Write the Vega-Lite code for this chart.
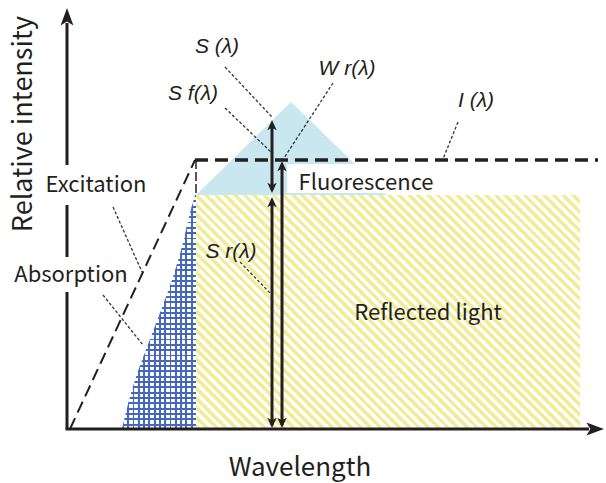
{
  "$schema": "https://vega.github.io/schema/vega-lite/v6.json",
  "width": 606,
  "height": 483,
  "autosize": {"type": "none"},
  "padding": 0,
  "background": "white",
  "config": {"view": {"stroke": null}},
  "datasets": {
    "fluorescence": [
      {"x": 129, "y": 234, "y2": 234},
      {"x": 224, "y": 327, "y2": 234},
      {"x": 320, "y": 234, "y2": 234}
    ],
    "reflected": [{"x": 129, "x2": 513, "y": 0, "y2": 234}],
    "absorption": [
      {"y": 0, "x": 55, "x2": 129},
      {"y": 49, "x": 68, "x2": 129},
      {"y": 82, "x": 80, "x2": 129},
      {"y": 116, "x": 93, "x2": 129},
      {"y": 149, "x": 105, "x2": 129},
      {"y": 182, "x": 115, "x2": 129},
      {"y": 216, "x": 123, "x2": 129},
      {"y": 234, "x": 128, "x2": 129}
    ],
    "axes": [
      {"x": -1.5, "x2": 522, "y": 0, "y2": 0},
      {"x": 0, "x2": 0, "y": 0, "y2": 406}
    ],
    "axis_heads": [
      {"x": 0, "y": 421, "dir": "up"},
      {"x": 537, "y": 0, "dir": "right"}
    ],
    "label_boxes": [
      {"x": 220, "x2": 373, "y": 236, "y2": 265},
      {"x": -27, "x2": 85, "y": 224, "y2": 264},
      {"x": -62, "x2": 66, "y": 137, "y2": 172}
    ],
    "irradiance_rise": [{"x": 3, "y": 0}, {"x": 128, "y": 269}],
    "irradiance_flat": [{"x": 128, "y": 269}, {"x": 531, "y": 269}],
    "edge": [{"x": 129, "x2": 129, "y": 236, "y2": 268}],
    "shafts": [
      {"x": 205, "x2": 205, "y": 239, "y2": 305},
      {"x": 205, "x2": 205, "y": 4, "y2": 228},
      {"x": 215, "x2": 215, "y": 4, "y2": 264}
    ],
    "heads": [
      {"x": 205, "y": 309, "dir": "up"},
      {"x": 205, "y": 236, "dir": "down"},
      {"x": 205, "y": 232, "dir": "up"},
      {"x": 205, "y": 1, "dir": "down"},
      {"x": 215, "y": 268, "dir": "up"},
      {"x": 215, "y": 1, "dir": "down"}
    ],
    "leaders": [
      {"x": 158, "y": 362, "x2": 205, "y2": 312},
      {"x": 158, "y": 321, "x2": 204, "y2": 277},
      {"x": 266, "y": 346, "x2": 217, "y2": 271},
      {"x": 391, "y": 307, "x2": 376, "y2": 270},
      {"x": 46, "y": 222, "x2": 75, "y2": 157},
      {"x": 36, "y": 134, "x2": 76, "y2": 84},
      {"x": 173, "y": 167, "x2": 203, "y2": 136}
    ],
    "symbols": [
      {"x": 150, "y": 376, "label": "S (λ)"},
      {"x": 126, "y": 329, "label": "S f(λ)"},
      {"x": 280, "y": 354, "label": "W r(λ)"},
      {"x": 409, "y": 322, "label": "I (λ)"},
      {"x": 164, "y": 171, "label": "S r(λ)"}
    ],
    "words": [
      {"x": 29, "y": 237, "label": "Excitation"},
      {"x": 4, "y": 147, "label": "Absorption"},
      {"x": 299, "y": 239, "label": "Fluorescence"},
      {"x": 361, "y": 109, "label": "Reflected light"}
    ],
    "x_title": [{"x": 233, "y": -47, "label": "Wavelength"}],
    "y_title": [{"x": -35, "y": 305, "label": "Relative intensity"}]
  },
  "encoding": {
    "x": {"field": "x", "type": "quantitative", "scale": {"domain": [-67, 539], "nice": false, "zero": false}, "axis": null},
    "y": {"field": "y", "type": "quantitative", "scale": {"domain": [-54, 429], "nice": false, "zero": false}, "axis": null}
  },
  "layer": [
    {
      "data": {"name": "fluorescence"},
      "mark": {"type": "area", "orient": "vertical", "color": "#c8e7ef", "opacity": 1},
      "encoding": {"y2": {"field": "y2"}}
    },
    {
      "data": {"name": "reflected"},
      "mark": {
        "type": "rect",
        "stroke": null,
        "fill": {
          "gradient": "linear", "x1": 0, "y1": 1, "x2": 1.1736, "y2": 0.2849,
          "stops": [
            {"offset": 0, "color": "#f3ec94"},
            {"offset": 0.0078125, "color": "#f3ec94"}, {"offset": 0.0078125, "color": "#ffffff"},
            {"offset": 0.015625, "color": "#ffffff"}, {"offset": 0.015625, "color": "#f3ec94"},
            {"offset": 0.0234375, "color": "#f3ec94"}, {"offset": 0.0234375, "color": "#ffffff"},
            {"offset": 0.03125, "color": "#ffffff"}, {"offset": 0.03125, "color": "#f3ec94"},
            {"offset": 0.0390625, "color": "#f3ec94"}, {"offset": 0.0390625, "color": "#ffffff"},
            {"offset": 0.046875, "color": "#ffffff"}, {"offset": 0.046875, "color": "#f3ec94"},
            {"offset": 0.0546875, "color": "#f3ec94"}, {"offset": 0.0546875, "color": "#ffffff"},
            {"offset": 0.0625, "color": "#ffffff"}, {"offset": 0.0625, "color": "#f3ec94"},
            {"offset": 0.0703125, "color": "#f3ec94"}, {"offset": 0.0703125, "color": "#ffffff"},
            {"offset": 0.078125, "color": "#ffffff"}, {"offset": 0.078125, "color": "#f3ec94"},
            {"offset": 0.0859375, "color": "#f3ec94"}, {"offset": 0.0859375, "color": "#ffffff"},
            {"offset": 0.09375, "color": "#ffffff"}, {"offset": 0.09375, "color": "#f3ec94"},
            {"offset": 0.1015625, "color": "#f3ec94"}, {"offset": 0.1015625, "color": "#ffffff"},
            {"offset": 0.109375, "color": "#ffffff"}, {"offset": 0.109375, "color": "#f3ec94"},
            {"offset": 0.1171875, "color": "#f3ec94"}, {"offset": 0.1171875, "color": "#ffffff"},
            {"offset": 0.125, "color": "#ffffff"}, {"offset": 0.125, "color": "#f3ec94"},
            {"offset": 0.1328125, "color": "#f3ec94"}, {"offset": 0.1328125, "color": "#ffffff"},
            {"offset": 0.140625, "color": "#ffffff"}, {"offset": 0.140625, "color": "#f3ec94"},
            {"offset": 0.1484375, "color": "#f3ec94"}, {"offset": 0.1484375, "color": "#ffffff"},
            {"offset": 0.15625, "color": "#ffffff"}, {"offset": 0.15625, "color": "#f3ec94"},
            {"offset": 0.1640625, "color": "#f3ec94"}, {"offset": 0.1640625, "color": "#ffffff"},
            {"offset": 0.171875, "color": "#ffffff"}, {"offset": 0.171875, "color": "#f3ec94"},
            {"offset": 0.1796875, "color": "#f3ec94"}, {"offset": 0.1796875, "color": "#ffffff"},
            {"offset": 0.1875, "color": "#ffffff"}, {"offset": 0.1875, "color": "#f3ec94"},
            {"offset": 0.1953125, "color": "#f3ec94"}, {"offset": 0.1953125, "color": "#ffffff"},
            {"offset": 0.203125, "color": "#ffffff"}, {"offset": 0.203125, "color": "#f3ec94"},
            {"offset": 0.2109375, "color": "#f3ec94"}, {"offset": 0.2109375, "color": "#ffffff"},
            {"offset": 0.21875, "color": "#ffffff"}, {"offset": 0.21875, "color": "#f3ec94"},
            {"offset": 0.2265625, "color": "#f3ec94"}, {"offset": 0.2265625, "color": "#ffffff"},
            {"offset": 0.234375, "color": "#ffffff"}, {"offset": 0.234375, "color": "#f3ec94"},
            {"offset": 0.2421875, "color": "#f3ec94"}, {"offset": 0.2421875, "color": "#ffffff"},
            {"offset": 0.25, "color": "#ffffff"}, {"offset": 0.25, "color": "#f3ec94"},
            {"offset": 0.2578125, "color": "#f3ec94"}, {"offset": 0.2578125, "color": "#ffffff"},
            {"offset": 0.265625, "color": "#ffffff"}, {"offset": 0.265625, "color": "#f3ec94"},
            {"offset": 0.2734375, "color": "#f3ec94"}, {"offset": 0.2734375, "color": "#ffffff"},
            {"offset": 0.28125, "color": "#ffffff"}, {"offset": 0.28125, "color": "#f3ec94"},
            {"offset": 0.2890625, "color": "#f3ec94"}, {"offset": 0.2890625, "color": "#ffffff"},
            {"offset": 0.296875, "color": "#ffffff"}, {"offset": 0.296875, "color": "#f3ec94"},
            {"offset": 0.3046875, "color": "#f3ec94"}, {"offset": 0.3046875, "color": "#ffffff"},
            {"offset": 0.3125, "color": "#ffffff"}, {"offset": 0.3125, "color": "#f3ec94"},
            {"offset": 0.3203125, "color": "#f3ec94"}, {"offset": 0.3203125, "color": "#ffffff"},
            {"offset": 0.328125, "color": "#ffffff"}, {"offset": 0.328125, "color": "#f3ec94"},
            {"offset": 0.3359375, "color": "#f3ec94"}, {"offset": 0.3359375, "color": "#ffffff"},
            {"offset": 0.34375, "color": "#ffffff"}, {"offset": 0.34375, "color": "#f3ec94"},
            {"offset": 0.3515625, "color": "#f3ec94"}, {"offset": 0.3515625, "color": "#ffffff"},
            {"offset": 0.359375, "color": "#ffffff"}, {"offset": 0.359375, "color": "#f3ec94"},
            {"offset": 0.3671875, "color": "#f3ec94"}, {"offset": 0.3671875, "color": "#ffffff"},
            {"offset": 0.375, "color": "#ffffff"}, {"offset": 0.375, "color": "#f3ec94"},
            {"offset": 0.3828125, "color": "#f3ec94"}, {"offset": 0.3828125, "color": "#ffffff"},
            {"offset": 0.390625, "color": "#ffffff"}, {"offset": 0.390625, "color": "#f3ec94"},
            {"offset": 0.3984375, "color": "#f3ec94"}, {"offset": 0.3984375, "color": "#ffffff"},
            {"offset": 0.40625, "color": "#ffffff"}, {"offset": 0.40625, "color": "#f3ec94"},
            {"offset": 0.4140625, "color": "#f3ec94"}, {"offset": 0.4140625, "color": "#ffffff"},
            {"offset": 0.421875, "color": "#ffffff"}, {"offset": 0.421875, "color": "#f3ec94"},
            {"offset": 0.4296875, "color": "#f3ec94"}, {"offset": 0.4296875, "color": "#ffffff"},
            {"offset": 0.4375, "color": "#ffffff"}, {"offset": 0.4375, "color": "#f3ec94"},
            {"offset": 0.4453125, "color": "#f3ec94"}, {"offset": 0.4453125, "color": "#ffffff"},
            {"offset": 0.453125, "color": "#ffffff"}, {"offset": 0.453125, "color": "#f3ec94"},
            {"offset": 0.4609375, "color": "#f3ec94"}, {"offset": 0.4609375, "color": "#ffffff"},
            {"offset": 0.46875, "color": "#ffffff"}, {"offset": 0.46875, "color": "#f3ec94"},
            {"offset": 0.4765625, "color": "#f3ec94"}, {"offset": 0.4765625, "color": "#ffffff"},
            {"offset": 0.484375, "color": "#ffffff"}, {"offset": 0.484375, "color": "#f3ec94"},
            {"offset": 0.4921875, "color": "#f3ec94"}, {"offset": 0.4921875, "color": "#ffffff"},
            {"offset": 0.5, "color": "#ffffff"}, {"offset": 0.5, "color": "#f3ec94"},
            {"offset": 0.5078125, "color": "#f3ec94"}, {"offset": 0.5078125, "color": "#ffffff"},
            {"offset": 0.515625, "color": "#ffffff"}, {"offset": 0.515625, "color": "#f3ec94"},
            {"offset": 0.5234375, "color": "#f3ec94"}, {"offset": 0.5234375, "color": "#ffffff"},
            {"offset": 0.53125, "color": "#ffffff"}, {"offset": 0.53125, "color": "#f3ec94"},
            {"offset": 0.5390625, "color": "#f3ec94"}, {"offset": 0.5390625, "color": "#ffffff"},
            {"offset": 0.546875, "color": "#ffffff"}, {"offset": 0.546875, "color": "#f3ec94"},
            {"offset": 0.5546875, "color": "#f3ec94"}, {"offset": 0.5546875, "color": "#ffffff"},
            {"offset": 0.5625, "color": "#ffffff"}, {"offset": 0.5625, "color": "#f3ec94"},
            {"offset": 0.5703125, "color": "#f3ec94"}, {"offset": 0.5703125, "color": "#ffffff"},
            {"offset": 0.578125, "color": "#ffffff"}, {"offset": 0.578125, "color": "#f3ec94"},
            {"offset": 0.5859375, "color": "#f3ec94"}, {"offset": 0.5859375, "color": "#ffffff"},
            {"offset": 0.59375, "color": "#ffffff"}, {"offset": 0.59375, "color": "#f3ec94"},
            {"offset": 0.6015625, "color": "#f3ec94"}, {"offset": 0.6015625, "color": "#ffffff"},
            {"offset": 0.609375, "color": "#ffffff"}, {"offset": 0.609375, "color": "#f3ec94"},
            {"offset": 0.6171875, "color": "#f3ec94"}, {"offset": 0.6171875, "color": "#ffffff"},
            {"offset": 0.625, "color": "#ffffff"}, {"offset": 0.625, "color": "#f3ec94"},
            {"offset": 0.6328125, "color": "#f3ec94"}, {"offset": 0.6328125, "color": "#ffffff"},
            {"offset": 0.640625, "color": "#ffffff"}, {"offset": 0.640625, "color": "#f3ec94"},
            {"offset": 0.6484375, "color": "#f3ec94"}, {"offset": 0.6484375, "color": "#ffffff"},
            {"offset": 0.65625, "color": "#ffffff"}, {"offset": 0.65625, "color": "#f3ec94"},
            {"offset": 0.6640625, "color": "#f3ec94"}, {"offset": 0.6640625, "color": "#ffffff"},
            {"offset": 0.671875, "color": "#ffffff"}, {"offset": 0.671875, "color": "#f3ec94"},
            {"offset": 0.6796875, "color": "#f3ec94"}, {"offset": 0.6796875, "color": "#ffffff"},
            {"offset": 0.6875, "color": "#ffffff"}, {"offset": 0.6875, "color": "#f3ec94"},
            {"offset": 0.6953125, "color": "#f3ec94"}, {"offset": 0.6953125, "color": "#ffffff"},
            {"offset": 0.703125, "color": "#ffffff"}, {"offset": 0.703125, "color": "#f3ec94"},
            {"offset": 0.7109375, "color": "#f3ec94"}, {"offset": 0.7109375, "color": "#ffffff"},
            {"offset": 0.71875, "color": "#ffffff"}, {"offset": 0.71875, "color": "#f3ec94"},
            {"offset": 0.7265625, "color": "#f3ec94"}, {"offset": 0.7265625, "color": "#ffffff"},
            {"offset": 0.734375, "color": "#ffffff"}, {"offset": 0.734375, "color": "#f3ec94"},
            {"offset": 0.7421875, "color": "#f3ec94"}, {"offset": 0.7421875, "color": "#ffffff"},
            {"offset": 0.75, "color": "#ffffff"}, {"offset": 0.75, "color": "#f3ec94"},
            {"offset": 0.7578125, "color": "#f3ec94"}, {"offset": 0.7578125, "color": "#ffffff"},
            {"offset": 0.765625, "color": "#ffffff"}, {"offset": 0.765625, "color": "#f3ec94"},
            {"offset": 0.7734375, "color": "#f3ec94"}, {"offset": 0.7734375, "color": "#ffffff"},
            {"offset": 0.78125, "color": "#ffffff"}, {"offset": 0.78125, "color": "#f3ec94"},
            {"offset": 0.7890625, "color": "#f3ec94"}, {"offset": 0.7890625, "color": "#ffffff"},
            {"offset": 0.796875, "color": "#ffffff"}, {"offset": 0.796875, "color": "#f3ec94"},
            {"offset": 0.8046875, "color": "#f3ec94"}, {"offset": 0.8046875, "color": "#ffffff"},
            {"offset": 0.8125, "color": "#ffffff"}, {"offset": 0.8125, "color": "#f3ec94"},
            {"offset": 0.8203125, "color": "#f3ec94"}, {"offset": 0.8203125, "color": "#ffffff"},
            {"offset": 0.828125, "color": "#ffffff"}, {"offset": 0.828125, "color": "#f3ec94"},
            {"offset": 0.8359375, "color": "#f3ec94"}, {"offset": 0.8359375, "color": "#ffffff"},
            {"offset": 0.84375, "color": "#ffffff"}, {"offset": 0.84375, "color": "#f3ec94"},
            {"offset": 0.8515625, "color": "#f3ec94"}, {"offset": 0.8515625, "color": "#ffffff"},
            {"offset": 0.859375, "color": "#ffffff"}, {"offset": 0.859375, "color": "#f3ec94"},
            {"offset": 0.8671875, "color": "#f3ec94"}, {"offset": 0.8671875, "color": "#ffffff"},
            {"offset": 0.875, "color": "#ffffff"}, {"offset": 0.875, "color": "#f3ec94"},
            {"offset": 0.8828125, "color": "#f3ec94"}, {"offset": 0.8828125, "color": "#ffffff"},
            {"offset": 0.890625, "color": "#ffffff"}, {"offset": 0.890625, "color": "#f3ec94"},
            {"offset": 0.8984375, "color": "#f3ec94"}, {"offset": 0.8984375, "color": "#ffffff"},
            {"offset": 0.90625, "color": "#ffffff"}, {"offset": 0.90625, "color": "#f3ec94"},
            {"offset": 0.9140625, "color": "#f3ec94"}, {"offset": 0.9140625, "color": "#ffffff"},
            {"offset": 0.921875, "color": "#ffffff"}, {"offset": 0.921875, "color": "#f3ec94"},
            {"offset": 0.9296875, "color": "#f3ec94"}, {"offset": 0.9296875, "color": "#ffffff"},
            {"offset": 0.9375, "color": "#ffffff"}, {"offset": 0.9375, "color": "#f3ec94"},
            {"offset": 0.9453125, "color": "#f3ec94"}, {"offset": 0.9453125, "color": "#ffffff"},
            {"offset": 0.953125, "color": "#ffffff"}, {"offset": 0.953125, "color": "#f3ec94"},
            {"offset": 0.9609375, "color": "#f3ec94"}, {"offset": 0.9609375, "color": "#ffffff"},
            {"offset": 0.96875, "color": "#ffffff"}, {"offset": 0.96875, "color": "#f3ec94"},
            {"offset": 0.9765625, "color": "#f3ec94"}, {"offset": 0.9765625, "color": "#ffffff"},
            {"offset": 0.984375, "color": "#ffffff"}, {"offset": 0.984375, "color": "#f3ec94"},
            {"offset": 0.9921875, "color": "#f3ec94"}, {"offset": 0.9921875, "color": "#ffffff"},
            {"offset": 1, "color": "#ffffff"}
          ]
        }
      },
      "encoding": {"x2": {"field": "x2"}, "y2": {"field": "y2"}}
    },
    {
      "data": {"name": "absorption"},
      "mark": {
        "type": "area",
        "orient": "horizontal",
        "interpolate": "monotone",
        "opacity": 1,
        "fill": {
          "gradient": "linear", "x1": 0, "y1": 0, "x2": 1, "y2": 0,
          "stops": [
            {"offset": 0, "color": "#4567c0"}, {"offset": 0.025, "color": "#4567c0"}, {"offset": 0.025, "color": "#ffffff"},
            {"offset": 0.0714, "color": "#ffffff"}, {"offset": 0.0714, "color": "#4567c0"}, {"offset": 0.0964, "color": "#4567c0"}, {"offset": 0.0964, "color": "#ffffff"},
            {"offset": 0.1429, "color": "#ffffff"}, {"offset": 0.1429, "color": "#4567c0"}, {"offset": 0.1679, "color": "#4567c0"}, {"offset": 0.1679, "color": "#ffffff"},
            {"offset": 0.2143, "color": "#ffffff"}, {"offset": 0.2143, "color": "#4567c0"}, {"offset": 0.2393, "color": "#4567c0"}, {"offset": 0.2393, "color": "#ffffff"},
            {"offset": 0.2857, "color": "#ffffff"}, {"offset": 0.2857, "color": "#4567c0"}, {"offset": 0.3107, "color": "#4567c0"}, {"offset": 0.3107, "color": "#ffffff"},
            {"offset": 0.3571, "color": "#ffffff"}, {"offset": 0.3571, "color": "#4567c0"}, {"offset": 0.3821, "color": "#4567c0"}, {"offset": 0.3821, "color": "#ffffff"},
            {"offset": 0.4286, "color": "#ffffff"}, {"offset": 0.4286, "color": "#4567c0"}, {"offset": 0.4536, "color": "#4567c0"}, {"offset": 0.4536, "color": "#ffffff"},
            {"offset": 0.5, "color": "#ffffff"}, {"offset": 0.5, "color": "#4567c0"}, {"offset": 0.525, "color": "#4567c0"}, {"offset": 0.525, "color": "#ffffff"},
            {"offset": 0.5714, "color": "#ffffff"}, {"offset": 0.5714, "color": "#4567c0"}, {"offset": 0.5964, "color": "#4567c0"}, {"offset": 0.5964, "color": "#ffffff"},
            {"offset": 0.6429, "color": "#ffffff"}, {"offset": 0.6429, "color": "#4567c0"}, {"offset": 0.6679, "color": "#4567c0"}, {"offset": 0.6679, "color": "#ffffff"},
            {"offset": 0.7143, "color": "#ffffff"}, {"offset": 0.7143, "color": "#4567c0"}, {"offset": 0.7393, "color": "#4567c0"}, {"offset": 0.7393, "color": "#ffffff"},
            {"offset": 0.7857, "color": "#ffffff"}, {"offset": 0.7857, "color": "#4567c0"}, {"offset": 0.8107, "color": "#4567c0"}, {"offset": 0.8107, "color": "#ffffff"},
            {"offset": 0.8571, "color": "#ffffff"}, {"offset": 0.8571, "color": "#4567c0"}, {"offset": 0.8821, "color": "#4567c0"}, {"offset": 0.8821, "color": "#ffffff"},
            {"offset": 0.9286, "color": "#ffffff"}, {"offset": 0.9286, "color": "#4567c0"}, {"offset": 0.9536, "color": "#4567c0"}, {"offset": 0.9536, "color": "#ffffff"},
            {"offset": 1, "color": "#ffffff"}
          ]
        }
      },
      "encoding": {"x2": {"field": "x2"}}
    },
    {
      "data": {"name": "absorption"},
      "mark": {
        "type": "area",
        "orient": "horizontal",
        "interpolate": "monotone",
        "opacity": 1,
        "fill": {
          "gradient": "linear", "x1": 0, "y1": 0, "x2": 0, "y2": 1,
          "stops": [
            {"offset": 0, "color": "#4567c0"}, {"offset": 0.008, "color": "#4567c0"}, {"offset": 0.008, "color": "transparent"},
            {"offset": 0.02273, "color": "transparent"}, {"offset": 0.02273, "color": "#4567c0"}, {"offset": 0.03073, "color": "#4567c0"}, {"offset": 0.03073, "color": "transparent"},
            {"offset": 0.04545, "color": "transparent"}, {"offset": 0.04545, "color": "#4567c0"}, {"offset": 0.05345, "color": "#4567c0"}, {"offset": 0.05345, "color": "transparent"},
            {"offset": 0.06818, "color": "transparent"}, {"offset": 0.06818, "color": "#4567c0"}, {"offset": 0.07618, "color": "#4567c0"}, {"offset": 0.07618, "color": "transparent"},
            {"offset": 0.09091, "color": "transparent"}, {"offset": 0.09091, "color": "#4567c0"}, {"offset": 0.09891, "color": "#4567c0"}, {"offset": 0.09891, "color": "transparent"},
            {"offset": 0.11364, "color": "transparent"}, {"offset": 0.11364, "color": "#4567c0"}, {"offset": 0.12164, "color": "#4567c0"}, {"offset": 0.12164, "color": "transparent"},
            {"offset": 0.13636, "color": "transparent"}, {"offset": 0.13636, "color": "#4567c0"}, {"offset": 0.14436, "color": "#4567c0"}, {"offset": 0.14436, "color": "transparent"},
            {"offset": 0.15909, "color": "transparent"}, {"offset": 0.15909, "color": "#4567c0"}, {"offset": 0.16709, "color": "#4567c0"}, {"offset": 0.16709, "color": "transparent"},
            {"offset": 0.18182, "color": "transparent"}, {"offset": 0.18182, "color": "#4567c0"}, {"offset": 0.18982, "color": "#4567c0"}, {"offset": 0.18982, "color": "transparent"},
            {"offset": 0.20455, "color": "transparent"}, {"offset": 0.20455, "color": "#4567c0"}, {"offset": 0.21255, "color": "#4567c0"}, {"offset": 0.21255, "color": "transparent"},
            {"offset": 0.22727, "color": "transparent"}, {"offset": 0.22727, "color": "#4567c0"}, {"offset": 0.23527, "color": "#4567c0"}, {"offset": 0.23527, "color": "transparent"},
            {"offset": 0.25, "color": "transparent"}, {"offset": 0.25, "color": "#4567c0"}, {"offset": 0.258, "color": "#4567c0"}, {"offset": 0.258, "color": "transparent"},
            {"offset": 0.27273, "color": "transparent"}, {"offset": 0.27273, "color": "#4567c0"}, {"offset": 0.28073, "color": "#4567c0"}, {"offset": 0.28073, "color": "transparent"},
            {"offset": 0.29545, "color": "transparent"}, {"offset": 0.29545, "color": "#4567c0"}, {"offset": 0.30345, "color": "#4567c0"}, {"offset": 0.30345, "color": "transparent"},
            {"offset": 0.31818, "color": "transparent"}, {"offset": 0.31818, "color": "#4567c0"}, {"offset": 0.32618, "color": "#4567c0"}, {"offset": 0.32618, "color": "transparent"},
            {"offset": 0.34091, "color": "transparent"}, {"offset": 0.34091, "color": "#4567c0"}, {"offset": 0.34891, "color": "#4567c0"}, {"offset": 0.34891, "color": "transparent"},
            {"offset": 0.36364, "color": "transparent"}, {"offset": 0.36364, "color": "#4567c0"}, {"offset": 0.37164, "color": "#4567c0"}, {"offset": 0.37164, "color": "transparent"},
            {"offset": 0.38636, "color": "transparent"}, {"offset": 0.38636, "color": "#4567c0"}, {"offset": 0.39436, "color": "#4567c0"}, {"offset": 0.39436, "color": "transparent"},
            {"offset": 0.40909, "color": "transparent"}, {"offset": 0.40909, "color": "#4567c0"}, {"offset": 0.41709, "color": "#4567c0"}, {"offset": 0.41709, "color": "transparent"},
            {"offset": 0.43182, "color": "transparent"}, {"offset": 0.43182, "color": "#4567c0"}, {"offset": 0.43982, "color": "#4567c0"}, {"offset": 0.43982, "color": "transparent"},
            {"offset": 0.45455, "color": "transparent"}, {"offset": 0.45455, "color": "#4567c0"}, {"offset": 0.46255, "color": "#4567c0"}, {"offset": 0.46255, "color": "transparent"},
            {"offset": 0.47727, "color": "transparent"}, {"offset": 0.47727, "color": "#4567c0"}, {"offset": 0.48527, "color": "#4567c0"}, {"offset": 0.48527, "color": "transparent"},
            {"offset": 0.5, "color": "transparent"}, {"offset": 0.5, "color": "#4567c0"}, {"offset": 0.508, "color": "#4567c0"}, {"offset": 0.508, "color": "transparent"},
            {"offset": 0.52273, "color": "transparent"}, {"offset": 0.52273, "color": "#4567c0"}, {"offset": 0.53073, "color": "#4567c0"}, {"offset": 0.53073, "color": "transparent"},
            {"offset": 0.54545, "color": "transparent"}, {"offset": 0.54545, "color": "#4567c0"}, {"offset": 0.55345, "color": "#4567c0"}, {"offset": 0.55345, "color": "transparent"},
            {"offset": 0.56818, "color": "transparent"}, {"offset": 0.56818, "color": "#4567c0"}, {"offset": 0.57618, "color": "#4567c0"}, {"offset": 0.57618, "color": "transparent"},
            {"offset": 0.59091, "color": "transparent"}, {"offset": 0.59091, "color": "#4567c0"}, {"offset": 0.59891, "color": "#4567c0"}, {"offset": 0.59891, "color": "transparent"},
            {"offset": 0.61364, "color": "transparent"}, {"offset": 0.61364, "color": "#4567c0"}, {"offset": 0.62164, "color": "#4567c0"}, {"offset": 0.62164, "color": "transparent"},
            {"offset": 0.63636, "color": "transparent"}, {"offset": 0.63636, "color": "#4567c0"}, {"offset": 0.64436, "color": "#4567c0"}, {"offset": 0.64436, "color": "transparent"},
            {"offset": 0.65909, "color": "transparent"}, {"offset": 0.65909, "color": "#4567c0"}, {"offset": 0.66709, "color": "#4567c0"}, {"offset": 0.66709, "color": "transparent"},
            {"offset": 0.68182, "color": "transparent"}, {"offset": 0.68182, "color": "#4567c0"}, {"offset": 0.68982, "color": "#4567c0"}, {"offset": 0.68982, "color": "transparent"},
            {"offset": 0.70455, "color": "transparent"}, {"offset": 0.70455, "color": "#4567c0"}, {"offset": 0.71255, "color": "#4567c0"}, {"offset": 0.71255, "color": "transparent"},
            {"offset": 0.72727, "color": "transparent"}, {"offset": 0.72727, "color": "#4567c0"}, {"offset": 0.73527, "color": "#4567c0"}, {"offset": 0.73527, "color": "transparent"},
            {"offset": 0.75, "color": "transparent"}, {"offset": 0.75, "color": "#4567c0"}, {"offset": 0.758, "color": "#4567c0"}, {"offset": 0.758, "color": "transparent"},
            {"offset": 0.77273, "color": "transparent"}, {"offset": 0.77273, "color": "#4567c0"}, {"offset": 0.78073, "color": "#4567c0"}, {"offset": 0.78073, "color": "transparent"},
            {"offset": 0.79545, "color": "transparent"}, {"offset": 0.79545, "color": "#4567c0"}, {"offset": 0.80345, "color": "#4567c0"}, {"offset": 0.80345, "color": "transparent"},
            {"offset": 0.81818, "color": "transparent"}, {"offset": 0.81818, "color": "#4567c0"}, {"offset": 0.82618, "color": "#4567c0"}, {"offset": 0.82618, "color": "transparent"},
            {"offset": 0.84091, "color": "transparent"}, {"offset": 0.84091, "color": "#4567c0"}, {"offset": 0.84891, "color": "#4567c0"}, {"offset": 0.84891, "color": "transparent"},
            {"offset": 0.86364, "color": "transparent"}, {"offset": 0.86364, "color": "#4567c0"}, {"offset": 0.87164, "color": "#4567c0"}, {"offset": 0.87164, "color": "transparent"},
            {"offset": 0.88636, "color": "transparent"}, {"offset": 0.88636, "color": "#4567c0"}, {"offset": 0.89436, "color": "#4567c0"}, {"offset": 0.89436, "color": "transparent"},
            {"offset": 0.90909, "color": "transparent"}, {"offset": 0.90909, "color": "#4567c0"}, {"offset": 0.91709, "color": "#4567c0"}, {"offset": 0.91709, "color": "transparent"},
            {"offset": 0.93182, "color": "transparent"}, {"offset": 0.93182, "color": "#4567c0"}, {"offset": 0.93982, "color": "#4567c0"}, {"offset": 0.93982, "color": "transparent"},
            {"offset": 0.95455, "color": "transparent"}, {"offset": 0.95455, "color": "#4567c0"}, {"offset": 0.96255, "color": "#4567c0"}, {"offset": 0.96255, "color": "transparent"},
            {"offset": 0.97727, "color": "transparent"}, {"offset": 0.97727, "color": "#4567c0"}, {"offset": 0.98527, "color": "#4567c0"}, {"offset": 0.98527, "color": "transparent"},
            {"offset": 1, "color": "transparent"}
          ]
        }
      },
      "encoding": {"x2": {"field": "x2"}}
    },
    {
      "data": {"name": "axes"},
      "mark": {"type": "rule", "color": "#231f20", "strokeWidth": 3},
      "encoding": {"x2": {"field": "x2"}, "y2": {"field": "y2"}}
    },
    {
      "data": {"name": "axis_heads"},
      "transform": [{"filter": "datum.dir === 'up'"}],
      "mark": {"type": "point", "shape": "M0,0 L0.8,2.2 L0,1.7 L-0.8,2.2 Z", "size": 256, "filled": true, "opacity": 1, "color": "#231f20", "angle": 0}
    },
    {
      "data": {"name": "axis_heads"},
      "transform": [{"filter": "datum.dir === 'right'"}],
      "mark": {"type": "point", "shape": "M0,0 L0.8,2.2 L0,1.7 L-0.8,2.2 Z", "size": 256, "filled": true, "opacity": 1, "color": "#231f20", "angle": 90}
    },
    {
      "data": {"name": "label_boxes"},
      "mark": {"type": "rect", "color": "#ffffff", "opacity": 1},
      "encoding": {"x2": {"field": "x2"}, "y2": {"field": "y2"}}
    },
    {
      "data": {"name": "irradiance_rise"},
      "mark": {"type": "line", "color": "#231f20", "strokeWidth": 2, "strokeDash": [12, 6]}
    },
    {
      "data": {"name": "irradiance_flat"},
      "mark": {"type": "line", "color": "#231f20", "strokeWidth": 3.5, "strokeDash": [13, 7]}
    },
    {
      "data": {"name": "edge"},
      "mark": {"type": "rule", "color": "#231f20", "strokeWidth": 1.5, "strokeDash": [9, 3]},
      "encoding": {"x2": {"field": "x2"}, "y2": {"field": "y2"}}
    },
    {
      "data": {"name": "shafts"},
      "mark": {"type": "rule", "color": "#231f20", "strokeWidth": 3},
      "encoding": {"x2": {"field": "x2"}, "y2": {"field": "y2"}}
    },
    {
      "data": {"name": "heads"},
      "transform": [{"filter": "datum.dir === 'up'"}],
      "mark": {"type": "point", "shape": "M0,0 L1.1,2.4 L0,1.8 L-1.1,2.4 Z", "size": 72, "filled": true, "opacity": 1, "color": "#231f20", "angle": 0}
    },
    {
      "data": {"name": "heads"},
      "transform": [{"filter": "datum.dir === 'down'"}],
      "mark": {"type": "point", "shape": "M0,0 L1.1,2.4 L0,1.8 L-1.1,2.4 Z", "size": 72, "filled": true, "opacity": 1, "color": "#231f20", "angle": 180}
    },
    {
      "data": {"name": "leaders"},
      "mark": {"type": "rule", "color": "#333333", "strokeWidth": 1.3, "strokeDash": [3, 2]},
      "encoding": {"x2": {"field": "x2"}, "y2": {"field": "y2"}}
    },
    {
      "data": {"name": "symbols"},
      "mark": {"type": "text", "font": "Liberation Sans", "fontStyle": "italic", "fontSize": 21, "color": "#231f20", "align": "center", "baseline": "alphabetic"},
      "encoding": {"text": {"field": "label"}}
    },
    {
      "data": {"name": "words"},
      "mark": {"type": "text", "font": "Noto Sans CJK JP", "fontSize": 22, "color": "#231f20", "align": "center", "baseline": "alphabetic"},
      "encoding": {"text": {"field": "label"}}
    },
    {
      "data": {"name": "x_title"},
      "mark": {"type": "text", "font": "Noto Sans CJK JP", "fontSize": 26, "color": "#231f20", "align": "center", "baseline": "alphabetic"},
      "encoding": {"text": {"field": "label"}}
    },
    {
      "data": {"name": "y_title"},
      "mark": {"type": "text", "font": "Noto Sans CJK JP", "fontSize": 27, "color": "#231f20", "align": "center", "baseline": "alphabetic", "angle": 270},
      "encoding": {"text": {"field": "label"}}
    }
  ]
}
